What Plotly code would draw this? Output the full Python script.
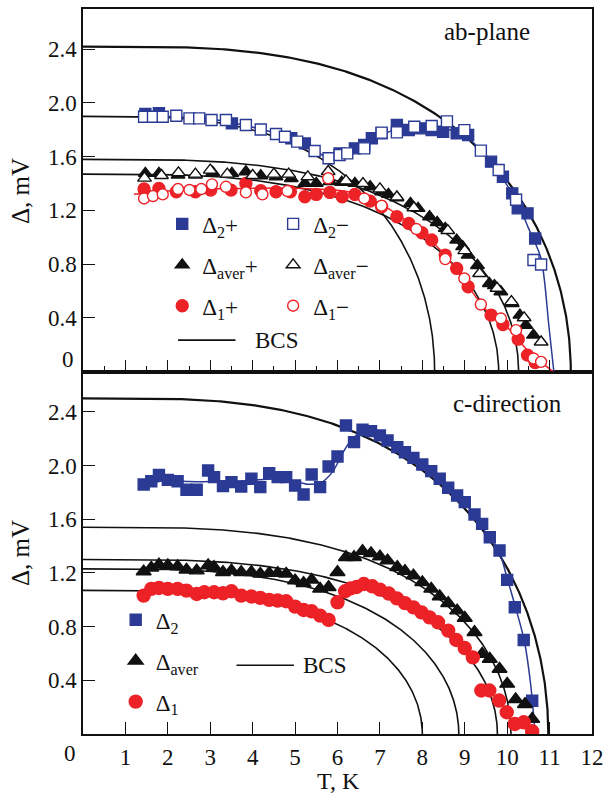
import numpy as np
import plotly.graph_objects as go

# ---------------- ab-plane (T in K, gap in mV) ----------------
ab_d2p_T = [1.47, 1.79, 3.51, 4.91, 5.23, 6.05, 6.41, 6.63, 6.81, 7.04, 7.40, 7.68, 7.95,
            8.22, 8.49, 8.81, 9.08, 9.62, 9.90, 10.12, 10.25, 10.48, 10.66]
ab_d2p = [1.918, 1.923, 1.848, 1.737, 1.699, 1.624, 1.662, 1.687, 1.737, 1.774, 1.836, 1.799, 1.811,
          1.799, 1.786, 1.774, 1.761, 1.563, 1.451, 1.327, 1.215, 1.178, 0.991]

ab_d2m_T = [1.44, 1.65, 1.88, 2.20, 2.51, 2.74, 3.03, 3.37, 3.84, 4.19, 4.55, 4.76, 5.05, 5.46,
            5.79, 6.05, 6.23, 6.63, 7.04, 7.40, 7.81, 8.22, 8.58, 8.99, 9.38, 9.80, 10.21, 10.62, 10.80]
ab_d2m = [1.898, 1.898, 1.898, 1.905, 1.885, 1.885, 1.873, 1.873, 1.836, 1.803, 1.769, 1.749, 1.712, 1.642,
          1.588, 1.613, 1.625, 1.662, 1.779, 1.781, 1.823, 1.828, 1.863, 1.798, 1.645, 1.501, 1.279, 0.830, 0.797]

ab_davp_T = [1.47, 1.79, 2.24, 2.65, 3.06, 3.51, 3.84, 4.19, 4.55, 4.91, 5.23, 5.50, 5.82, 6.10, 6.41,
             6.77, 7.04, 7.20, 7.40, 7.72, 7.90, 8.17, 8.35, 8.54, 8.81, 8.95, 9.08, 9.30, 9.58, 9.70,
             9.85, 10.12, 10.30, 10.44, 10.62]
ab_davp = [1.476, 1.476, 1.463, 1.463, 1.483, 1.476, 1.488, 1.458, 1.451, 1.438, 1.401, 1.401, 1.414, 1.41, 1.401,
           1.376, 1.339, 1.32, 1.294, 1.252, 1.215, 1.153, 1.11, 1.066, 0.979, 0.93, 0.867, 0.79, 0.656, 0.64,
           0.594, 0.507, 0.42, 0.345, 0.271]

ab_davm_T = [1.45, 1.85, 2.25, 2.65, 3.00, 3.40, 4.00, 4.50, 4.85, 5.30, 5.78, 6.20, 6.60, 7.00, 7.40,
             7.80, 8.60, 9.00, 9.35, 9.76, 10.10, 10.40, 10.80]
ab_davm = [1.44, 1.46, 1.48, 1.47, 1.50, 1.47, 1.46, 1.47, 1.47, 1.45, 1.49, 1.42, 1.40, 1.36, 1.30,
           1.22, 1.05, 0.90, 0.73, 0.62, 0.52, 0.40, 0.22]

ab_d1p_T = [1.44, 1.79, 2.20, 2.65, 3.01, 3.49, 3.84, 4.19, 4.55, 4.89, 5.23, 5.50, 5.82, 6.11, 6.41,
            6.77, 7.04, 7.40, 7.68, 7.99, 8.22, 8.54, 8.81, 9.08, 9.62, 9.90, 10.26, 10.48, 10.66]
ab_d1p = [1.359, 1.364, 1.339, 1.339, 1.351, 1.351, 1.401, 1.346, 1.339, 1.339, 1.302, 1.319, 1.334, 1.302, 1.319,
          1.269, 1.227, 1.153, 1.103, 1.033, 0.979, 0.867, 0.768, 0.631, 0.420, 0.350, 0.241, 0.122, 0.067]

ab_d1m_T = [1.44, 1.65, 1.88, 2.24, 2.51, 2.79, 3.04, 3.37, 3.84, 4.23, 4.82, 5.78, 6.63, 7.04, 7.86,
            8.54, 8.99, 9.38, 9.85, 10.21, 10.62, 10.80]
ab_d1m = [1.289, 1.307, 1.319, 1.359, 1.352, 1.359, 1.394, 1.376, 1.334, 1.319, 1.344, 1.439, 1.289, 1.235, 1.061,
          0.837, 0.693, 0.499, 0.395, 0.308, 0.097, 0.072]

# guide-to-the-eye lines through the ab-plane data
ab_fit2_T = [1.4, 2.0, 3.0, 4.0, 4.6, 5.2, 5.6, 5.85, 6.1, 6.5, 7.0, 7.5, 8.0, 8.5, 9.0, 9.5, 9.9,
             10.2, 10.5, 10.8, 10.98, 11.1]
ab_fit2 = [1.90, 1.90, 1.88, 1.82, 1.77, 1.69, 1.62, 1.58, 1.61, 1.67, 1.76, 1.81, 1.82, 1.81, 1.76, 1.60, 1.43,
           1.29, 1.07, 0.84, 0.35, 0.0]
ab_fit1_T = [1.2, 2.0, 3.0, 4.0, 5.0, 6.0, 6.5, 7.0, 7.5, 8.0, 8.5, 9.0, 9.5, 10.0, 10.5, 10.8, 11.08]
ab_fit1 = [1.32, 1.345, 1.36, 1.365, 1.365, 1.35, 1.32, 1.25, 1.15, 1.03, 0.88, 0.67, 0.46, 0.33, 0.15, 0.07, 0.0]

# BCS curves: zero-temperature gap (mV) and critical temperature (K)
ab_bcs_d0 = [2.42, 1.90, 1.58, 1.47]
ab_bcs_tc = [11.50, 8.29, 10.27, 9.80]

# ---------------- c-direction ----------------
c_d2_T = [1.43, 1.61, 1.79, 2.00, 2.23, 2.44, 2.68, 2.95, 3.09, 3.30, 3.50, 3.73, 3.97, 4.18, 4.39,
          4.59, 4.79, 5.00, 5.20, 5.39, 5.59, 5.79, 6.00, 6.20, 6.39, 6.59, 6.79, 7.00, 7.18, 7.41,
          7.59, 7.79, 8.00, 8.21, 8.41, 8.61, 8.82, 9.00, 9.23, 9.41, 9.59, 9.82, 10.00, 10.18, 10.39, 10.59]
c_d2 = [1.858, 1.883, 1.930, 1.893, 1.883, 1.819, 1.819, 1.963, 1.913, 1.846, 1.876, 1.843, 1.901, 1.839, 1.942,
        1.913, 1.913, 1.851, 1.784, 1.933, 1.839, 1.992, 2.067, 2.298, 2.174, 2.266, 2.256, 2.224, 2.186, 2.137,
        2.099, 2.057, 2.007, 1.958, 1.901, 1.834, 1.776, 1.727, 1.635, 1.565, 1.466, 1.367, 1.148, 0.944, 0.700, 0.248]

c_dav_T = [1.43, 1.61, 1.79, 2.00, 2.23, 2.44, 2.68, 2.95, 3.09, 3.30, 3.50, 3.73, 3.97, 4.18, 4.39,
           4.59, 4.79, 5.00, 5.20, 5.39, 5.59, 5.79, 6.00, 6.20, 6.39, 6.59, 6.79, 7.00, 7.18, 7.41,
           7.59, 7.79, 8.00, 8.21, 8.41, 8.61, 8.82, 9.00, 9.23, 9.41, 9.59, 9.82, 10.00, 10.20, 10.42, 10.59]
c_dav = [1.210, 1.238, 1.261, 1.255, 1.248, 1.223, 1.217, 1.255, 1.242, 1.205, 1.217, 1.205, 1.205, 1.193, 1.198,
         1.198, 1.193, 1.143, 1.123, 1.148, 1.081, 1.093, 1.205, 1.317, 1.317, 1.362, 1.346, 1.321, 1.292, 1.242,
         1.213, 1.180, 1.130, 1.081, 1.024, 0.974, 0.919, 0.864, 0.758, 0.596, 0.559, 0.484, 0.373, 0.258, 0.222, 0.112]

c_d1_T = [1.43, 1.61, 1.79, 2.00, 2.23, 2.44, 2.68, 2.86, 3.09, 3.30, 3.50, 3.73, 3.97, 4.18, 4.39,
          4.59, 4.79, 5.00, 5.20, 5.39, 5.59, 5.79, 6.00, 6.18, 6.31, 6.45, 6.62, 6.82, 7.00, 7.21,
          7.40, 7.59, 7.79, 7.98, 8.17, 8.37, 8.61, 8.80, 9.00, 9.19, 9.39, 9.58, 9.81, 9.99, 10.18,
          10.39, 10.59]
c_d1 = [1.031, 1.081, 1.088, 1.081, 1.081, 1.068, 1.043, 1.056, 1.056, 1.048, 1.063, 1.031, 1.024, 1.014, 0.999,
        0.994, 0.989, 0.949, 0.924, 0.914, 0.882, 0.850, 0.981, 1.063, 1.085, 1.095, 1.117, 1.100, 1.075, 1.046,
        1.010, 0.975, 0.943, 0.906, 0.869, 0.832, 0.770, 0.700, 0.640, 0.571, 0.324, 0.324, 0.249, 0.162, 0.075,
        0.087, 0.020]

c_fit2_T = [1.45, 2.0, 2.5, 3.0, 3.5, 4.0, 4.5, 5.0, 5.3, 5.6, 5.9, 6.1, 6.3, 6.5, 6.7, 7.0, 7.5, 8.0, 8.5,
            9.0, 9.5, 9.8, 10.0, 10.2, 10.4, 10.55, 10.66]
c_fit2 = [1.86, 1.89, 1.88, 1.88, 1.88, 1.89, 1.90, 1.88, 1.86, 1.87, 1.96, 2.08, 2.18, 2.24, 2.265, 2.23, 2.12,
          2.01, 1.87, 1.73, 1.50, 1.37, 1.16, 0.94, 0.70, 0.38, 0.0]

c_bcs_d0 = [2.50, 1.54, 1.30, 1.23, 1.07]
c_bcs_tc = [10.97, 10.09, 9.77, 8.86, 8.00]

# axis tick labels
x_ticks = list(range(1, 13))
y_ticks = [0.4, 0.8, 1.2, 1.6, 2.0, 2.4]

BLUE = "#2b3a94"
RED = "#ec2227"
BLACK = "#111111"
FONT = "Liberation Serif, Tinos, Times New Roman, DejaVu Serif, serif"
W, H = 611, 799
ML, MR, MT, MB = 83, 14, 7, 65
PW, PH = W - ML - MR, H - MT - MB


def bcs_curve(d0, tc, n=500):
    """Weak-coupling BCS gap Delta(T) on a grid that is dense near Tc."""
    u = np.linspace(1.0, 0.0, n)
    t = tc * (1.0 - u ** 3)
    safe_t = np.where(t > 0, t, 1.0)
    arg = np.where(t > 0, np.sqrt(np.maximum(tc / safe_t - 1.0, 0.0)), 50.0)
    return t, d0 * np.tanh(1.74 * arg)


def px(xpix):
    return (xpix - ML) / PW


def py(ypix):
    return (H - MB - ypix) / PH


fig = go.Figure()

# BCS curves
for panel, d0s, tcs in (("top", ab_bcs_d0, ab_bcs_tc), ("bot", c_bcs_d0, c_bcs_tc)):
    for i, (d0, tc) in enumerate(zip(d0s, tcs)):
        t, d = bcs_curve(d0, tc)
        fig.add_trace(go.Scatter(
            x=t, y=d, mode="lines", showlegend=False, hoverinfo="skip",
            line=dict(color=BLACK, width=2.2 if i == 0 else 1.6),
            xaxis="x2" if panel == "top" else "x", yaxis="y2" if panel == "top" else "y"))

# guide lines
fit_line = dict(width=1.5, shape="spline", smoothing=0.8)
fig.add_trace(go.Scatter(x=ab_fit2_T, y=ab_fit2, mode="lines", line=dict(color=BLUE, **fit_line),
                         showlegend=False, hoverinfo="skip", xaxis="x2", yaxis="y2"))
fig.add_trace(go.Scatter(x=ab_fit1_T, y=ab_fit1, mode="lines", line=dict(color=RED, **fit_line),
                         showlegend=False, hoverinfo="skip", xaxis="x2", yaxis="y2"))
fig.add_trace(go.Scatter(x=c_fit2_T, y=c_fit2, mode="lines", line=dict(color=BLUE, **fit_line),
                         showlegend=False, hoverinfo="skip", xaxis="x", yaxis="y"))


def markers(x, y, name, symbol, size, fill, edge, legend, group, axes):
    fig.add_trace(go.Scatter(
        x=x, y=y, mode="markers", name=name, legend=legend, legendgroup=group,
        marker=dict(symbol=symbol, size=size, color=fill, line=dict(color=edge, width=1.4)),
        xaxis=axes[0], yaxis=axes[1]))


top = ("x2", "y2")
bot = ("x", "y")
# filled symbols first, open symbols drawn over them
markers(ab_d2p_T, ab_d2p, "Δ<sub>2</sub>+", "square", 11, BLUE, BLUE, "legend", "a1", top)
markers(ab_davp_T, ab_davp, "Δ<sub>aver</sub>+", "triangle-up", 12, BLACK, BLACK, "legend", "a2", top)
markers(ab_d1p_T, ab_d1p, "Δ<sub>1</sub>+", "circle", 12, RED, RED, "legend", "a3", top)
markers(ab_d2m_T, ab_d2m, "Δ<sub>2</sub>−", "square", 11, "white", BLUE, "legend2", "b1", top)
markers(ab_davm_T, ab_davm, "Δ<sub>aver</sub>−", "triangle-up", 12, "white", BLACK, "legend2", "b2", top)
markers(ab_d1m_T, ab_d1m, "Δ<sub>1</sub>−", "circle", 11, "white", RED, "legend2", "b3", top)

markers(c_d2_T, c_d2, "Δ<sub>2</sub>", "square", 11, BLUE, BLUE, "legend3", "c1", bot)
markers(c_dav_T, c_dav, "Δ<sub>aver</sub>", "triangle-up", 13, BLACK, BLACK, "legend3", "c2", bot)
markers(c_d1_T, c_d1, "Δ<sub>1</sub>", "circle", 13, RED, RED, "legend3", "c3", bot)

tickfont = dict(family=FONT, size=23, color=BLACK)
axis_common = dict(showline=True, linecolor=BLACK, linewidth=1.5, mirror=True, ticks="inside",
                   ticklen=12, tickwidth=1.3, tickcolor=BLACK, showgrid=False, zeroline=False,
                   tickfont=tickfont)

legend_common = dict(bgcolor="rgba(0,0,0,0)", borderwidth=0, xanchor="left", yanchor="top",
                     font=dict(family=FONT, size=23, color=BLACK), tracegroupgap=8,
                     itemsizing="trace", traceorder="grouped")


def label(text, x, y, size=23, **kw):
    d = dict(text=text, x=px(x), y=py(y), xref="paper", yref="paper", showarrow=False,
             xanchor="center", yanchor="middle", font=dict(family=FONT, size=size, color=BLACK))
    d.update(kw)
    return d


annotations = [
    label("ab-plane", 491, 30, size=25),
    label("c-direction", 512, 403, size=25),
    label("Δ, mV", 20, 190, size=25, textangle=-90),
    label("Δ, mV", 20, 553, size=25, textangle=-90),
    label("T, K", 341, 781, size=24),
    # corner zero labels
    label("0", 76, 358, xanchor="right"),
    label("0", 70, 754),
    # BCS key text
    label("BCS", 255, 339, xanchor="left"),
    label("BCS", 303, 665, xanchor="left"),
]

# BCS key lines
shapes = [
    dict(type="line", xref="paper", yref="paper", x0=px(179), x1=px(237), y0=py(339), y1=py(339),
         line=dict(color=BLACK, width=1.6)),
    dict(type="line", xref="paper", yref="paper", x0=px(238), x1=px(296), y0=py(665), y1=py(665),
         line=dict(color=BLACK, width=1.6)),
]

fig.update_layout(
    width=W, height=H, margin=dict(l=ML, r=MR, t=MT, b=MB),
    paper_bgcolor="white", plot_bgcolor="white", hovermode=False,
    font=dict(family=FONT, color=BLACK),
    xaxis=dict(domain=[0, 1], anchor="y", range=[0, 12], tickvals=x_ticks,
               ticktext=[str(v) for v in x_ticks], ticklabelstandoff=2, **axis_common),
    yaxis=dict(domain=[0, 0.5], anchor="x", range=[0, 2.7], tickvals=y_ticks,
               ticktext=[f"{v:.1f}" for v in y_ticks], **axis_common),
    xaxis2=dict(domain=[0, 1], anchor="y2", range=[0, 12], tickvals=list(range(1, 12)),
                showticklabels=False, minor=dict(ticks="inside", ticklen=6, tickcolor=BLACK, dtick=0.5),
                **axis_common),
    yaxis2=dict(domain=[0.5, 1], anchor="x2", range=[0, 2.7], tickvals=y_ticks,
                ticktext=[f"{v:.1f}" for v in y_ticks], **axis_common),
    legend=dict(x=px(163), y=py(201), **legend_common),
    legend2=dict(x=px(275), y=py(201), **legend_common),
    legend3=dict(x=px(116), y=py(598), **legend_common),
    annotations=annotations, shapes=shapes,
)

fig.write_html("out.html")
